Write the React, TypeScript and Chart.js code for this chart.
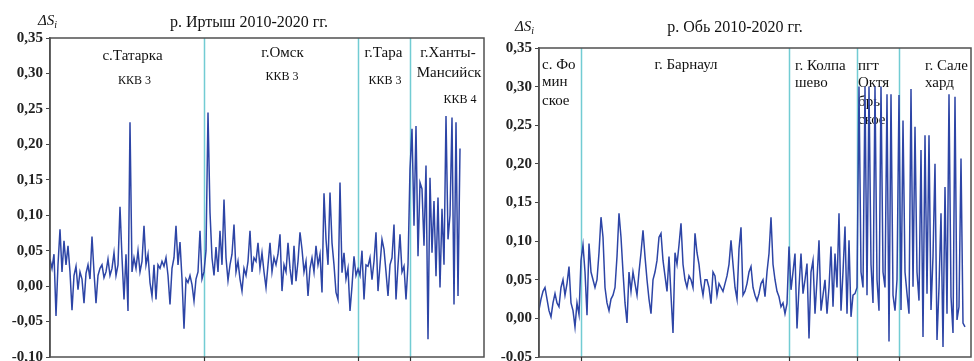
import React, { useEffect, useRef } from "react";
import { Chart, registerables } from "chart.js";

Chart.register(...registerables);

// ---------------- data: р. Иртыш (left panel), one array per station ----------------
const tatarkaValues = [
  0.038, 0.025, 0.045, -0.042, 0.030, 0.080, 0.020, 0.064, 0.030, 0.057,
  0.020, -0.034, 0.015, 0.028, -0.005, 0.020, 0.010, -0.024, 0.018, 0.030,
  0.010, 0.070, 0.020, -0.024, 0.015, 0.025, 0.030, 0.012, 0.020, 0.038,
  0.015, 0.025, 0.047, 0.015, 0.030, 0.112, 0.040, -0.019, 0.045, -0.035,
  0.231, 0.020, 0.040, 0.025, 0.050, 0.020, 0.035, 0.085, 0.030, 0.045,
  0.005, -0.014, 0.030, -0.019, 0.030, 0.025, 0.035, 0.028, 0.040, 0.015,
  -0.026, 0.025, 0.040, 0.085, 0.030, 0.062, 0.010, -0.060, 0.010, 0.005,
  0.015, 0.002, -0.021, 0.010, 0.020, 0.078, 0.010,
];
const omskValues = [
  0.020, 0.050, 0.245, 0.104, 0.040, 0.015, 0.055, 0.020, 0.078, 0.030,
  0.122, 0.040, 0.008, 0.030, 0.045, 0.087, 0.020, 0.035, 0.010, -0.007,
  0.025, 0.015, 0.035, 0.078, 0.020, 0.040, 0.035, 0.061, 0.025, 0.047,
  0.020, -0.002, 0.030, 0.061, 0.020, 0.040, 0.030, 0.045, 0.073, -0.007,
  0.030, 0.020, 0.061, 0.025, 0.002, 0.057, 0.007, 0.035, 0.076, 0.052,
  0.020, 0.035, -0.014, 0.025, 0.040, 0.020, 0.057, 0.030, 0.045, -0.009,
  0.131, 0.066, 0.030, 0.132, 0.061, 0.030, -0.009, -0.019, 0.146, 0.019,
  0.047, 0.010, 0.025, -0.035, 0.000, 0.042, 0.015,
];
const taraValues = [
  0.024, 0.015, 0.050, -0.019, 0.030, 0.028, 0.040, 0.009, 0.035, 0.076,
  -0.007, 0.030, 0.066, 0.052, 0.020, -0.014, 0.030, 0.040, 0.087, -0.019,
  0.030, 0.073, 0.020, 0.028, -0.019, 0.030,
];
const khantyValues = [
  0.165, 0.222, 0.085, 0.226, 0.042, 0.146, 0.137, 0.057, 0.170, -0.075,
  0.153, 0.047, 0.120, 0.014, 0.125, -0.002, 0.109, 0.030, 0.240, 0.066,
  0.100, 0.238, -0.026, 0.231, -0.014, 0.194,
];

// ---------------- data: р. Обь (right panel), one array per station ----------------
const fominskoeValues = [
  0.011, 0.025, 0.035, 0.040, 0.025, 0.010, 0.002, 0.020, 0.032, 0.020,
  0.015, 0.040, 0.050, 0.030, 0.045, 0.067, 0.020, 0.010, -0.011, 0.020,
  0.005,
];
const barnaulValues = [
  0.075, 0.095, 0.060, 0.004, 0.097, 0.060, 0.050, 0.040, 0.050, 0.085,
  0.131, 0.105, 0.040, 0.020, 0.010, 0.025, 0.030, 0.040, 0.080, 0.136,
  0.105, 0.060, 0.020, -0.006, 0.060, 0.035, 0.060, 0.045, 0.030, 0.060,
  0.085, 0.114, 0.080, 0.050, 0.025, 0.006, 0.050, 0.060, 0.075, 0.105,
  0.110, 0.075, 0.055, 0.035, 0.080, 0.030, -0.019, 0.085, 0.070, 0.095,
  0.123, 0.070, 0.050, 0.040, 0.055, 0.050, 0.040, 0.110, 0.085, 0.070,
  0.045, 0.030, 0.050, 0.050, 0.040, 0.019, 0.060, 0.055, 0.030, 0.045,
  0.040, 0.035, 0.045, 0.055, 0.070, 0.101, 0.070, 0.040, 0.025, 0.090,
  0.118, 0.030, 0.035, 0.045, 0.060, 0.067, 0.040, 0.030, 0.023, 0.032,
  0.045, 0.050, 0.028, 0.060, 0.084, 0.131, 0.070, 0.050, 0.035, 0.028,
  0.015, 0.020, 0.006, 0.019,
];
const kolpashevoValues = [
  0.093, 0.037, 0.060, 0.084, -0.013, 0.040, 0.084, 0.032, 0.050, 0.071,
  -0.026, 0.060, 0.075, 0.006, 0.050, 0.101, 0.010, 0.030, 0.050, 0.006,
  0.040, 0.093, 0.015, 0.084, 0.040, 0.136, 0.010, 0.060, 0.119, 0.006,
  0.101, 0.002, 0.030, 0.032,
];
const oktyabrskoeValues = [
  0.040, 0.300, 0.060, 0.040, 0.300, 0.030, 0.300, 0.070, 0.020, 0.300,
  0.050, 0.010, 0.300, 0.060, 0.040, 0.290, -0.030, 0.290, 0.030, 0.010,
  0.050,
];
const salekhardValues = [
  0.289, 0.011, 0.256, 0.060, 0.032, 0.006, 0.297, 0.041, 0.248, 0.060,
  0.023, 0.218, -0.024, 0.237, 0.032, 0.237, 0.011, 0.080, 0.200, -0.028,
  0.040, 0.136, -0.037, 0.170, 0.006, 0.290, 0.028, -0.019, 0.287, -0.002,
  0.015, 0.207, -0.006, -0.011,
];

// ---------------- tick values ----------------
const irtyshTickValues = [-0.1, -0.05, 0, 0.05, 0.1, 0.15, 0.2, 0.25, 0.3, 0.35];
const obTickValues = [-0.05, 0, 0.05, 0.1, 0.15, 0.2, 0.25, 0.3, 0.35];

// ---------------- texts ----------------
const irtyshTitle = "р. Иртыш 2010-2020 гг.";
const obTitle = "р. Обь 2010-2020 гг.";

const irtyshLabels = [
  { text: "с.Татарка", x: 41.25, y: 0.325, size: 15, align: "center" },
  { text: "ККВ 3", x: 42.25, y: 0.29, size: 12, align: "center" },
  { text: "г.Омск", x: 116.25, y: 0.329, size: 15, align: "center" },
  { text: "ККВ 3", x: 116, y: 0.295, size: 12, align: "center" },
  { text: "г.Тара", x: 166.75, y: 0.329, size: 15, align: "center" },
  { text: "ККВ 3", x: 167.5, y: 0.289, size: 12, align: "center" },
  { text: "г.Ханты-", x: 199, y: 0.329, size: 15, align: "center" },
  { text: "Мансийск", x: 199.5, y: 0.301, size: 15, align: "center" },
  { text: "ККВ 4", x: 205, y: 0.2625, size: 12, align: "center" },
];
const obLabels = [
  { text: "с. Фо", x: 1.5, y: 0.328, size: 15, align: "left" },
  { text: "мин", x: 1.5, y: 0.306, size: 15, align: "left" },
  { text: "ское", x: 1.5, y: 0.281, size: 15, align: "left" },
  { text: "г. Барнаул", x: 73.5, y: 0.328, size: 15, align: "center" },
  { text: "г. Колпа", x: 128, y: 0.327, size: 15, align: "left" },
  { text: "шево", x: 128, y: 0.305, size: 15, align: "left" },
  { text: "пгт", x: 159.5, y: 0.327, size: 15, align: "left" },
  { text: "Октя", x: 159.5, y: 0.305, size: 15, align: "left" },
  { text: "брь", x: 159.5, y: 0.28, size: 15, align: "left" },
  { text: "ское", x: 159.5, y: 0.257, size: 15, align: "left" },
  { text: "г. Сале", x: 193, y: 0.327, size: 15, align: "left" },
  { text: "хард", x: 193, y: 0.305, size: 15, align: "left" },
];

// ---------------- styles ----------------
const SERIF = '"Liberation Serif", "Times New Roman", serif';
const LINE_COLOR = "#2d45a6";
const CYAN = "#72ccd3";
const FRAME = "#505050";

type PanelCfg = {
  segments: number[][];
  ticks: number[];
  yMin: number;
  yMax: number;
  xMax: number;
  axisWidth: number;
  padding: { left: number; right: number; top: number; bottom: number };
  title: string;
  titleX: number;
  titleY: number;
  symX: number;
  symY: number;
  labels: { text: string; x: number; y: number; size: number; align: string }[];
};

function buildSeries(segments: number[][]) {
  const points: { x: number; y: number }[] = [];
  const bounds: number[] = [];
  let i = 0;
  segments.forEach((seg, k) => {
    if (k > 0) bounds.push(i);
    seg.forEach((v) => points.push({ x: i++, y: v }));
  });
  return { points, bounds };
}

function fmt(v: number) {
  const n = Math.abs(v) < 1e-9 ? 0 : v;
  return n.toFixed(2).replace(".", ",");
}

function makeOverlay(cfg: PanelCfg, bounds: number[]) {
  return {
    id: "overlay",
    beforeDatasetsDraw(chart: any) {
      const { ctx, chartArea: a, scales } = chart;
      const x = scales.x;
      const y = scales.y;
      ctx.save();
      ctx.strokeStyle = CYAN;
      ctx.lineWidth = 1.5;
      bounds.forEach((b) => {
        const px = Math.round(x.getPixelForValue(b)) + 0.5;
        ctx.beginPath();
        ctx.moveTo(px, a.top);
        ctx.lineTo(px, a.bottom);
        ctx.stroke();
      });
      ctx.fillStyle = "#111";
      ctx.textBaseline = "middle";
      cfg.labels.forEach((l) => {
        ctx.font = `${l.size}px ${SERIF}`;
        ctx.textAlign = l.align;
        ctx.fillText(l.text, x.getPixelForValue(l.x), y.getPixelForValue(l.y));
      });
      ctx.restore();
    },
    afterDraw(chart: any) {
      const { ctx, chartArea: a, scales } = chart;
      const x = scales.x;
      ctx.save();
      ctx.strokeStyle = FRAME;
      ctx.lineWidth = 1.5;
      ctx.strokeRect(a.left, a.top, a.right - a.left, a.bottom - a.top);
      ctx.strokeStyle = "#333";
      ctx.lineWidth = 1.2;
      bounds.forEach((b) => {
        const px = Math.round(x.getPixelForValue(b)) + 0.5;
        ctx.beginPath();
        ctx.moveTo(px, a.bottom);
        ctx.lineTo(px, a.bottom + 4);
        ctx.stroke();
      });
      ctx.fillStyle = "#111";
      ctx.textBaseline = "alphabetic";
      ctx.textAlign = "center";
      ctx.font = `16px ${SERIF}`;
      ctx.fillText(cfg.title, cfg.titleX, cfg.titleY);
      ctx.textAlign = "left";
      ctx.font = `italic 15px ${SERIF}`;
      ctx.fillText("ΔS", cfg.symX, cfg.symY);
      const w = ctx.measureText("ΔS").width;
      ctx.font = `italic 10px ${SERIF}`;
      ctx.fillText("i", cfg.symX + w, cfg.symY + 3);
      ctx.restore();
    },
  };
}

function Panel({ cfg, left }: { cfg: PanelCfg; left: number }) {
  const ref = useRef<HTMLCanvasElement>(null);
  useEffect(() => {
    const { points, bounds } = buildSeries(cfg.segments);
    const chart = new Chart(ref.current as HTMLCanvasElement, {
      type: "line",
      data: {
        datasets: [
          {
            data: points,
            borderColor: LINE_COLOR,
            borderWidth: 1.5,
            pointRadius: 0,
            tension: 0,
            fill: false,
          },
        ],
      },
      options: {
        animation: false,
        responsive: false,
        maintainAspectRatio: false,
        layout: { padding: cfg.padding },
        plugins: {
          legend: { display: false },
          tooltip: { enabled: false },
          title: { display: false },
        },
        scales: {
          x: { type: "linear", min: 0, max: cfg.xMax, display: false },
          y: {
            type: "linear",
            min: cfg.yMin,
            max: cfg.yMax,
            afterBuildTicks: (s: any) => {
              s.ticks = cfg.ticks.map((v) => ({ value: v }));
            },
            afterFit: (s: any) => {
              s.width = cfg.axisWidth;
              s.paddingTop = 0;
              s.paddingBottom = 0;
            },
            ticks: {
              callback: (v: any) => fmt(Number(v)),
              font: { family: SERIF, weight: "bold", size: 15 },
              color: "#222",
              padding: 3,
            },
            grid: {
              drawOnChartArea: false,
              drawTicks: true,
              tickLength: 4,
              color: "#444",
            },
            border: { display: true, color: FRAME, width: 1.5 },
          },
        },
      } as any,
      plugins: [makeOverlay(cfg, bounds) as any],
    });
    return () => chart.destroy();
  }, []);
  return (
    <canvas
      ref={ref}
      width={487}
      height={361}
      style={{ position: "absolute", left, top: 0, width: 487, height: 361 }}
    />
  );
}

const irtyshCfg: PanelCfg = {
  segments: [tatarkaValues, omskValues, taraValues, khantyValues],
  ticks: irtyshTickValues,
  yMin: -0.1,
  yMax: 0.35,
  xMax: 217,
  axisWidth: 50,
  padding: { left: 0, right: 3, top: 38, bottom: 4 },
  title: irtyshTitle,
  titleX: 249,
  titleY: 27,
  symX: 38,
  symY: 25,
  labels: irtyshLabels,
};

const obCfg: PanelCfg = {
  segments: [fominskoeValues, barnaulValues, kolpashevoValues, oktyabrskoeValues, salekhardValues],
  ticks: obTickValues,
  yMin: -0.05,
  yMax: 0.35,
  xMax: 216,
  axisWidth: 52,
  padding: { left: 0, right: 3, top: 48, bottom: 4 },
  title: obTitle,
  titleX: 248,
  titleY: 32,
  symX: 28,
  symY: 31,
  labels: obLabels,
};

export default function App() {
  return (
    <div
      style={{
        position: "fixed",
        left: 0,
        top: 0,
        width: 974,
        height: 361,
        background: "#ffffff",
        overflow: "hidden",
      }}
    >
      <Panel cfg={irtyshCfg} left={0} />
      <Panel cfg={obCfg} left={487} />
    </div>
  );
}
